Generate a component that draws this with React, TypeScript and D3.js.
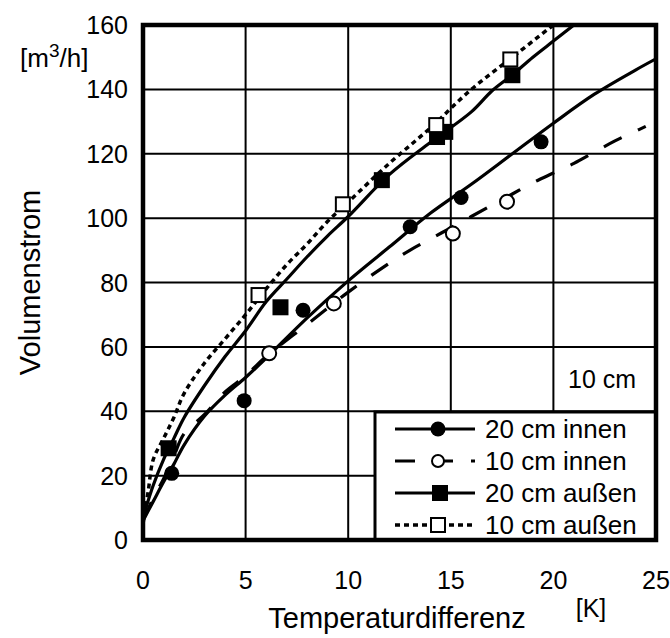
import React from "react";
import * as d3 from "d3";

// ---- Data ----
const xTicks = [0, 5, 10, 15, 20, 25];
const yTicks = [0, 20, 40, 60, 80, 100, 120, 140, 160];

// fitted curves
const fitInnen20X = [0, 0.5, 1, 1.5, 2, 3, 4, 5, 6, 8, 10, 12, 14, 16, 18, 20, 22, 24, 25];
const fitInnen20Y = [6, 12, 18, 23.5, 29.5, 38.5, 45, 50.5, 56.5, 69, 80.5, 91, 101.5, 110.5, 120, 129.5, 138.5, 146, 149.5];

const fitInnen10X = [0, 0.5, 1, 1.5, 2, 3, 4, 5, 6, 8, 10, 12, 13, 14, 15, 16, 17, 18, 19, 20, 21, 22, 23, 24, 24.5];
const fitInnen10Y = [6, 13, 19, 26, 33, 39, 46, 51, 57, 67, 77, 86, 90, 93.5, 97, 100.5, 104, 107.5, 111, 114, 117, 120.5, 124, 127, 128.5];

const fitAussen20X = [0, 0.5, 1, 1.5, 2, 3, 4, 5, 6, 7, 8, 9, 10, 12, 14, 16, 17, 18, 19, 20, 21];
const fitAussen20Y = [7, 17, 25, 31.5, 38, 48, 57, 65, 74, 81, 88, 94.5, 100.5, 113.5, 123.5, 133, 139.5, 144.5, 150, 155, 160];

const fitAussen10X = [0, 0.25, 0.5, 1, 1.5, 2, 3, 4, 5, 6, 7, 8, 9, 10, 12, 14, 16, 18, 20];
const fitAussen10Y = [5, 15, 25, 31.5, 38, 45.5, 55, 62.5, 70, 78, 85.5, 92, 99, 105, 117, 128, 140, 150, 160];

// measured points
const innen20X = [1.4, 4.93, 7.8, 13.02, 15.5, 19.4];
const innen20Y = [20.7, 43.3, 71.4, 97.3, 106.4, 123.7];

const innen10X = [6.15, 9.3, 15.1, 17.74];
const innen10Y = [58, 73.5, 95.2, 105.1];

const aussen20X = [1.25, 6.7, 11.64, 14.33, 14.73, 18.0];
const aussen20Y = [28.5, 72.3, 111.8, 125.2, 126.8, 144.4];

const aussen10X = [5.63, 9.74, 14.29, 17.9];
const aussen10Y = [76.1, 104.3, 128.9, 149.3];

const legendLabels = ["20 cm innen", "10 cm innen", "20 cm außen", "10 cm außen"];

const FONT = "'Liberation Sans', Arial, Helvetica, sans-serif";

export default function App() {
  const W = 670, H = 638;
  const L = 143, R = 656, T = 25, B = 540;
  const x = d3.scaleLinear().domain([0, 25]).range([L, R]);
  const y = d3.scaleLinear().domain([0, 160]).range([B, T]);

  const line = d3
    .line<[number, number]>()
    .x((d) => x(d[0]))
    .y((d) => y(d[1]))
    .curve(d3.curveCatmullRom.alpha(0.5));

  const zip = (a: number[], b: number[]) => a.map((v, i) => [v, b[i]] as [number, number]);

  const rFill = 7.5;
  const rOpen = 7;
  const sqFill = 16;
  const sqOpen = 14;

  const legX0 = 375;
  const legY0 = 412;
  const rowY = [429, 461, 493, 525];
  const lx1 = 395, lx2 = 475, lmx = 438, ltx = 485;

  return (
    <svg
      width={W}
      height={H}
      style={{ position: "absolute", left: 0, top: 0, background: "#fff" }}
      fontFamily={FONT}
    >
      <defs>
        <clipPath id="plotclip">
          <rect x={L} y={T} width={R - L} height={B - T} />
        </clipPath>
      </defs>
      <rect x={0} y={0} width={W} height={H} fill="#fff" />
      {/* grid */}
      {xTicks.slice(1, -1).map((t) => (
        <line key={"gx" + t} x1={x(t)} x2={x(t)} y1={T} y2={B} stroke="#000" strokeWidth={2} />
      ))}
      {yTicks.slice(1, -1).map((t) => (
        <line key={"gy" + t} x1={L} x2={R} y1={y(t)} y2={y(t)} stroke="#000" strokeWidth={2} />
      ))}

      {/* curves */}
      <g clipPath="url(#plotclip)" fill="none" stroke="#000" strokeLinecap="butt">
        <path d={line(zip(fitInnen20X, fitInnen20Y)) || ""} strokeWidth={3.2} />
        <path d={line(zip(fitInnen10X, fitInnen10Y)) || ""} strokeWidth={3.2} strokeDasharray="20,18" />
        <path d={line(zip(fitAussen20X, fitAussen20Y)) || ""} strokeWidth={3.2} />
        <path d={line(zip(fitAussen10X, fitAussen10Y)) || ""} strokeWidth={3.5} strokeDasharray="5,4" />
      </g>

      {/* markers */}
      {aussen20X.map((v, i) => (
        <rect key={"a20" + i} x={x(v) - sqFill / 2} y={y(aussen20Y[i]) - sqFill / 2} width={sqFill} height={sqFill} fill="#000" />
      ))}
      {aussen10X.map((v, i) => (
        <rect key={"a10" + i} x={x(v) - sqOpen / 2} y={y(aussen10Y[i]) - sqOpen / 2} width={sqOpen} height={sqOpen} fill="#fff" stroke="#000" strokeWidth={2} />
      ))}
      {innen20X.map((v, i) => (
        <circle key={"i20" + i} cx={x(v)} cy={y(innen20Y[i])} r={rFill} fill="#000" />
      ))}
      {innen10X.map((v, i) => (
        <circle key={"i10" + i} cx={x(v)} cy={y(innen10Y[i])} r={rOpen} fill="#fff" stroke="#000" strokeWidth={2} />
      ))}

      {/* legend */}
      <rect x={legX0} y={legY0} width={R - legX0} height={B - legY0} fill="#fff" stroke="#000" strokeWidth={3} />
      <g stroke="#000" fill="none">
        <line x1={lx1} x2={lx2} y1={rowY[0]} y2={rowY[0]} strokeWidth={3.2} />
        <line x1={lx1} x2={lx2} y1={rowY[1]} y2={rowY[1]} strokeWidth={3.2} strokeDasharray="20,18" />
        <line x1={lx1} x2={lx2} y1={rowY[2]} y2={rowY[2]} strokeWidth={3.2} />
        <line x1={lx1} x2={lx2} y1={rowY[3]} y2={rowY[3]} strokeWidth={3.5} strokeDasharray="5,4" />
      </g>
      <circle cx={lmx} cy={rowY[0]} r={rFill} fill="#000" />
      <circle cx={lmx} cy={rowY[1]} r={rOpen - 1} fill="#fff" stroke="#000" strokeWidth={2} />
      <rect x={lmx - sqFill / 2 + 2} y={rowY[2] - sqFill / 2} width={sqFill} height={sqFill} fill="#000" />
      <rect x={lmx - sqOpen / 2} y={rowY[3] - sqOpen / 2} width={sqOpen} height={sqOpen} fill="#fff" stroke="#000" strokeWidth={2} />
      {legendLabels.map((t, i) => (
        <text key={t} x={ltx} y={rowY[i]} dy="0.36em" fontSize={26} fill="#000">
          {t}
        </text>
      ))}

      {/* 10 cm label */}
      <text x={568} y={388} fontSize={25} fill="#000">10 cm</text>

      {/* frame */}
      <rect x={L} y={T} width={R - L} height={B - T} fill="none" stroke="#000" strokeWidth={4.5} />

      {/* tick labels */}
      {xTicks.map((t) => (
        <text key={"xl" + t} x={x(t)} y={589} textAnchor="middle" fontSize={25} fill="#000">
          {t}
        </text>
      ))}
      {yTicks.map((t) => (
        <text key={"yl" + t} x={128} y={y(t)} dy="0.36em" textAnchor="end" fontSize={25} fill="#000">
          {t}
        </text>
      ))}

      {/* units and titles */}
      <text x={20} y={67} fontSize={26} fill="#000">
        [m<tspan dy={-10} fontSize={19}>3</tspan><tspan dy={10}>/h]</tspan>
      </text>
      <text x={591} y={617} textAnchor="middle" fontSize={25} fill="#000">[K]</text>
      <text x={397} y={628} textAnchor="middle" fontSize={29} fill="#000">Temperaturdifferenz</text>
      <text transform={`translate(40, ${(T + B) / 2}) rotate(-90)`} textAnchor="middle" fontSize={29} fill="#000">
        Volumenstrom
      </text>
    </svg>
  );
}
